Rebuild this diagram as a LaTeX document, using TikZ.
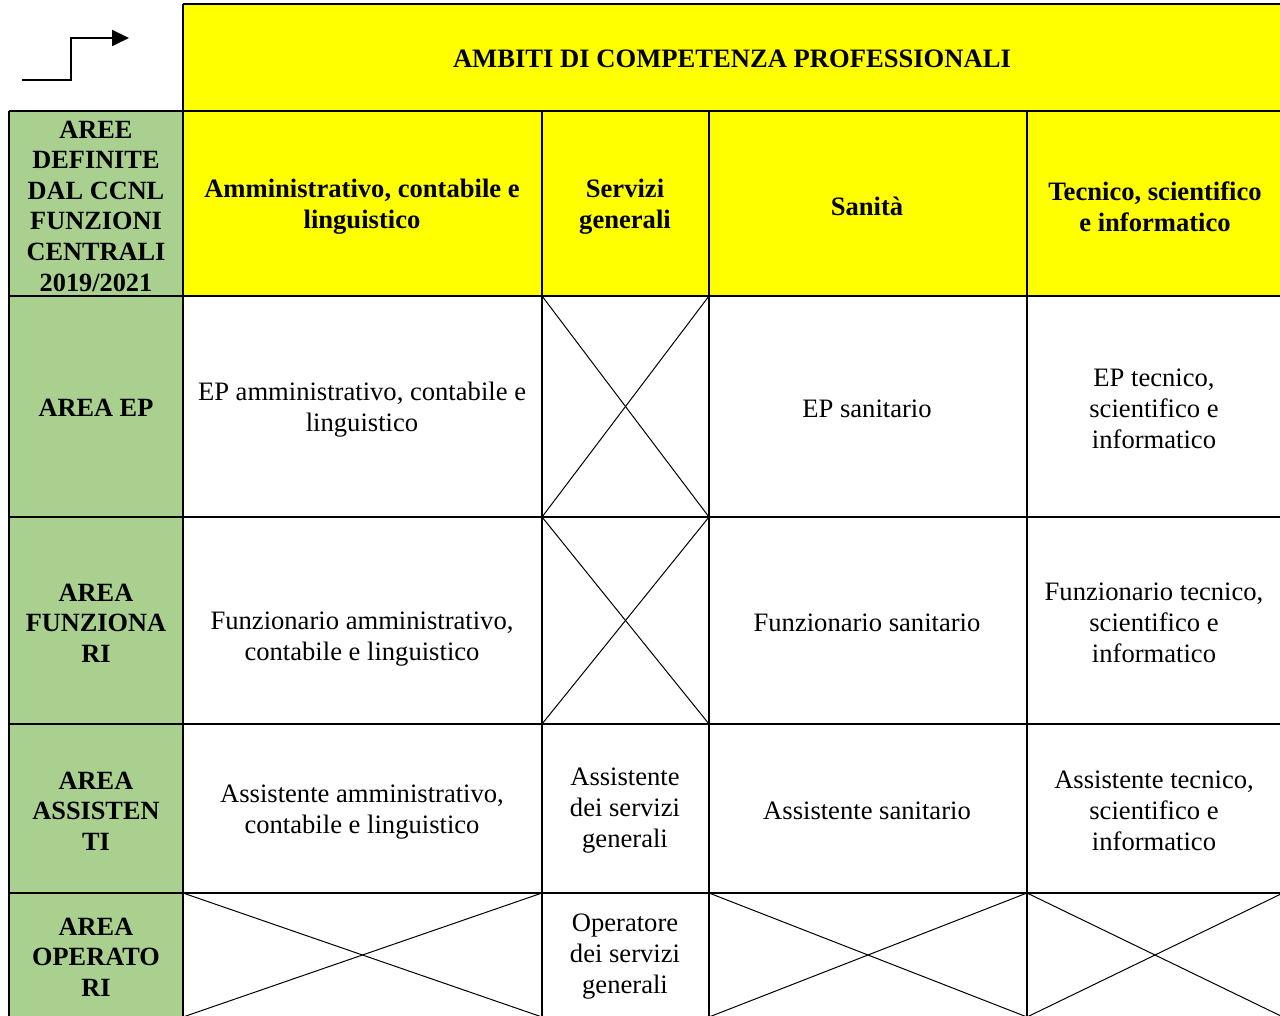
\documentclass[tikz,border=0pt]{standalone}
\usepackage{fontspec}
\setmainfont{Liberation Serif}
\usetikzlibrary{arrows.meta}
\definecolor{hdryellow}{HTML}{FFFF00}
\definecolor{areagreen}{HTML}{A9D08E}
\begin{document}
\begin{tikzpicture}[x=1pt,y=-1pt,
  grid/.style={line width=2pt,black},
  crossline/.style={line width=1pt,black},
  celltext/.style={align=center,inner sep=0pt,font=\fontsize{26.6}{31}\selectfont},
  headtext/.style={celltext,font=\fontsize{26.6}{31}\selectfont\bfseries},
  areatext/.style={celltext,font=\fontsize{26.3}{30.6}\selectfont\bfseries}]
\clip (0,0) rectangle (1280,1016);
\fill[white] (0,0) rectangle (1280,1016);
% fills
\fill[hdryellow] (183,4) rectangle (1285,296);
\fill[areagreen] (9,111) rectangle (183,1020);
% crosses
\foreach \xa/\ya/\xb/\yb in {542/296/709/517, 542/517/709/724, 183/893/542/1017, 709/893/1027/1017, 1027/893/1283/1017}{
  \coordinate (tl) at (\xa,\ya); \coordinate (br) at (\xb,\yb);
  \coordinate (tr) at (\xb,\ya); \coordinate (bl) at (\xa,\yb);
  \draw[crossline] (tl) -- (br);
  \draw[crossline] (tr) -- (bl);
}
% grid
\draw[grid] (183,4) -- (1285,4);
\draw[grid] (183,4) -- (183,1020);
\foreach \yy in {111,296,517,724,893}{\draw[grid] (9,\yy) -- (1285,\yy);}
\foreach \xx in {9,542,709,1027}{\draw[grid] (\xx,111) -- (\xx,1020);}
% arrow
\coordinate (a0) at (22,80);
\coordinate (a1) at (71,80);
\coordinate (a2) at (71,38);
\coordinate (a3) at (129,38);
\draw[line width=2pt,-{Triangle[length=17pt,width=16pt]}] (a0) -- (a1) -- (a2) -- (a3);
% title
\node[headtext] (title) at (732,59) {AMBITI DI COMPETENZA PROFESSIONALI};
% header row
\node[areatext] (aree) at (96,206) {AREE\\DEFINITE\\DAL CCNL\\FUNZIONI\\CENTRALI\\2019/2021};
\node[headtext] (h1) at (362,207) {Amministrativo, contabile e\\linguistico};
\node[headtext] (h2) at (625,207) {Servizi\\generali};
\node[headtext] (h3) at (867,206) {Sanità};
\node[headtext] (h4) at (1155,207) {Tecnico, scientifico\\e informatico};
% EP row
\node[areatext] (rEP) at (96,408) {AREA EP};
\node[celltext] (ep1) at (362,410) {EP amministrativo, contabile e\\linguistico};
\node[celltext] (ep3) at (867,409) {EP sanitario};
\node[celltext] (ep4) at (1154,409) {EP tecnico,\\scientifico e\\informatico};
% Funzionari row
\node[areatext] (rF) at (96,623) {AREA\\FUNZIONA\\RI};
\node[celltext] (f1) at (362,639) {Funzionario amministrativo,\\contabile e linguistico};
\node[celltext] (f3) at (867,623) {Funzionario sanitario};
\node[celltext] (f4) at (1154,623) {Funzionario tecnico,\\scientifico e\\informatico};
% Assistenti row
\node[areatext] (rA) at (96,811) {AREA\\ASSISTEN\\TI};
\node[celltext] (s1) at (362,812) {Assistente amministrativo,\\contabile e linguistico};
\node[celltext] (s2) at (625,811) {Assistente\\dei servizi\\generali};
\node[celltext] (s3) at (867,811) {Assistente sanitario};
\node[celltext] (s4) at (1154,811) {Assistente tecnico,\\scientifico e\\informatico};
% Operatori row
\node[areatext] (rO) at (96,957) {AREA\\OPERATO\\RI};
\node[celltext] (o2) at (625,957) {Operatore\\dei servizi\\generali};
\end{tikzpicture}
\end{document}
